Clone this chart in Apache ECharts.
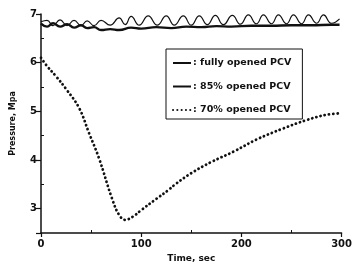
<!DOCTYPE html>
<html><head><meta charset="utf-8">
<script src="https://cdn.jsdelivr.net/npm/echarts@6/dist/echarts.min.js"></script>
<style>html,body{margin:0;padding:0;background:#fff}#c{width:355px;height:269px}</style>
</head><body><div id="c"></div>
<script>
const seriesNames = [': fully opened PCV', ': 85% opened PCV', ': 70% opened PCV'];
const xTicks = [0, 100, 200, 300];
const yTicks = [3, 4, 5, 6, 7];
// fully opened PCV: [time s, pressure MPa]
const fullyOpened = [[0,6.84],[6,6.87],[12,6.76],[19,6.88],[26,6.76],[33,6.87],[40,6.76],[46,6.86],[53,6.76],[60,6.87],[69,6.77],[78,6.92],[84,6.78],[90,6.95],[98,6.77],[107,6.96],[116,6.77],[125,6.96],[133,6.77],[142,6.96],[150,6.77],[158,6.96],[166,6.78],[174,6.97],[182,6.78],[191,6.97],[199,6.79],[207,6.98],[215,6.8],[222,6.98],[230,6.8],[237,6.98],[245,6.8],[252,6.98],[260,6.8],[267,6.98],[275,6.81],[282,6.98],[290,6.81],[298,6.9]];
const opened85 = [[0,6.8],[6,6.74],[12,6.81],[19,6.74],[26,6.79],[33,6.72],[40,6.77],[46,6.71],[53,6.73],[60,6.67],[69,6.69],[78,6.67],[90,6.72],[100,6.7],[115,6.73],[130,6.71],[145,6.74],[160,6.73],[175,6.75],[190,6.74],[210,6.76],[230,6.76],[250,6.77],[270,6.77],[290,6.78],[298,6.78]];
const opened70 = [[0,6.1],[6,5.93],[15,5.72],[25,5.46],[38,5.07],[48,4.55],[58,4.03],[71,3.2],[78,2.87],[84,2.77],[92,2.84],[100,2.97],[115,3.2],[127,3.38],[134,3.5],[150,3.73],[170,3.96],[193,4.18],[215,4.42],[242,4.65],[265,4.82],[285,4.93],[300,4.96]];

const chart = echarts.init(document.getElementById('c'));
const lblFont = {fontFamily:'DejaVu Sans', fontWeight:'bold', color:'#111'};
chart.setOption({
  animation:false,
  backgroundColor:'#fff',
  grid:{left:41,right:9,top:14,bottom:36},
  legend:{
    orient:'vertical', left:166, top:49,
    padding:[9,11,4,6], itemGap:13.5, itemWidth:18, itemHeight:9,
    borderColor:'#111', borderWidth:1,
    itemStyle:{opacity:0, borderWidth:0},
    textStyle:Object.assign({fontSize:9.5, padding:[0,0,0,-3]}, lblFont),
    data:seriesNames
  },
  xAxis:{
    type:'value', min:xTicks[0], max:xTicks[xTicks.length-1], interval:100,
    name:'Time, sec', nameLocation:'middle', nameGap:20,
    nameTextStyle:Object.assign({fontSize:9}, lblFont),
    axisLine:{lineStyle:{color:'#111',width:1.5}},
    axisTick:{length:4,lineStyle:{color:'#111',width:1.2}},
    minorTick:{show:true,splitNumber:2,length:-3,lineStyle:{color:'#111',width:1}},
    axisLabel:Object.assign({fontSize:10, margin:6}, lblFont),
    splitLine:{show:false}
  },
  yAxis:{
    type:'value', min:2.5, max:yTicks[yTicks.length-1],
    name:'Pressure, Mpa', nameLocation:'middle', nameGap:24,
    nameTextStyle:Object.assign({fontSize:8}, lblFont),
    axisLine:{show:true,lineStyle:{color:'#111',width:1.5}},
    axisTick:{show:true,length:5,lineStyle:{color:'#111',width:1.2}},
    minorTick:{show:true,splitNumber:2,length:-3,lineStyle:{color:'#111',width:1}},
    axisLabel:Object.assign({fontSize:10, margin:4, showMinLabel:false,
      formatter:v=>yTicks.includes(v)?String(v):''}, lblFont),
    splitLine:{show:false}
  },
  series:[
    {name:seriesNames[0], type:'line', data:fullyOpened, smooth:0.5, symbol:'none', z:3,
     lineStyle:{color:'#111',width:1.2}, itemStyle:{color:'#111'}},
    {name:seriesNames[1], type:'line', data:opened85, smooth:0.5, symbol:'none', z:2,
     lineStyle:{color:'#111',width:2.4}, itemStyle:{color:'#111'}},
    {name:seriesNames[2], type:'line', data:opened70, smooth:0.4, symbol:'none', z:2,
     lineStyle:{color:'#111',width:2.8,type:[0.1,4.2],cap:'round'}, itemStyle:{color:'#111'}}
  ]
});
</script></body></html>
